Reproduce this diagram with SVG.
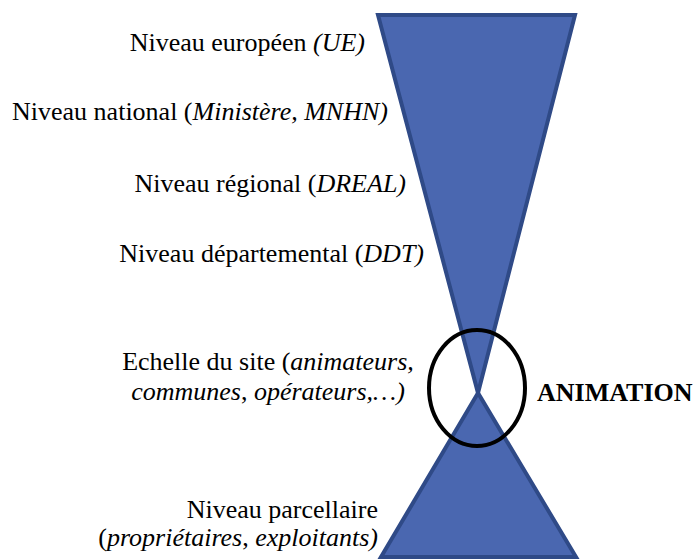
<svg xmlns="http://www.w3.org/2000/svg" width="698" height="559" viewBox="0 0 698 559">
<style>
.tri{fill:#4a67b0;stroke:#2f4a87;stroke-width:4;stroke-linejoin:miter}
</style>
<rect width="698" height="559" fill="#fff"/>
<g id="shapes">
<polygon class="tri" points="378,15 575,15 478,393"/>
<polygon class="tri" points="478,393 381,557 576,557"/>
<ellipse cx="477" cy="388" rx="48" ry="58" fill="none" stroke="#000" stroke-width="4"/>
</g>
<g id="labels" font-size="26" fill="#000">
<text font-family="Liberation Serif" text-anchor="end" x="365" y="51">Niveau européen <tspan font-style="italic">(UE)</tspan></text>
<text font-family="Liberation Serif" text-anchor="end" x="388" y="120">Niveau national (<tspan font-style="italic">Ministère, MNHN)</tspan></text>
<text font-family="Liberation Serif" text-anchor="end" x="406" y="192">Niveau régional (<tspan font-style="italic">DREAL)</tspan></text>
<text font-family="Liberation Serif" text-anchor="end" x="424" y="262">Niveau départemental (<tspan font-style="italic">DDT)</tspan></text>
<text font-family="Liberation Serif" text-anchor="middle" x="268" y="370">Echelle du site (<tspan font-style="italic">animateurs,</tspan></text>
<text font-family="Liberation Serif" text-anchor="middle" x="268" y="400"><tspan font-style="italic">communes</tspan>, <tspan font-style="italic">opérateurs,…)</tspan></text>
<text font-family="Liberation Serif" text-anchor="end" x="378" y="518">Niveau parcellaire</text>
<text font-family="Liberation Serif" text-anchor="end" x="378" y="546">(<tspan font-style="italic">propriétaires</tspan>, <tspan font-style="italic">exploitants)</tspan></text>
<text font-family="Liberation Serif" font-weight="bold" x="537" y="401">ANIMATION</text>
</g>
</svg>
